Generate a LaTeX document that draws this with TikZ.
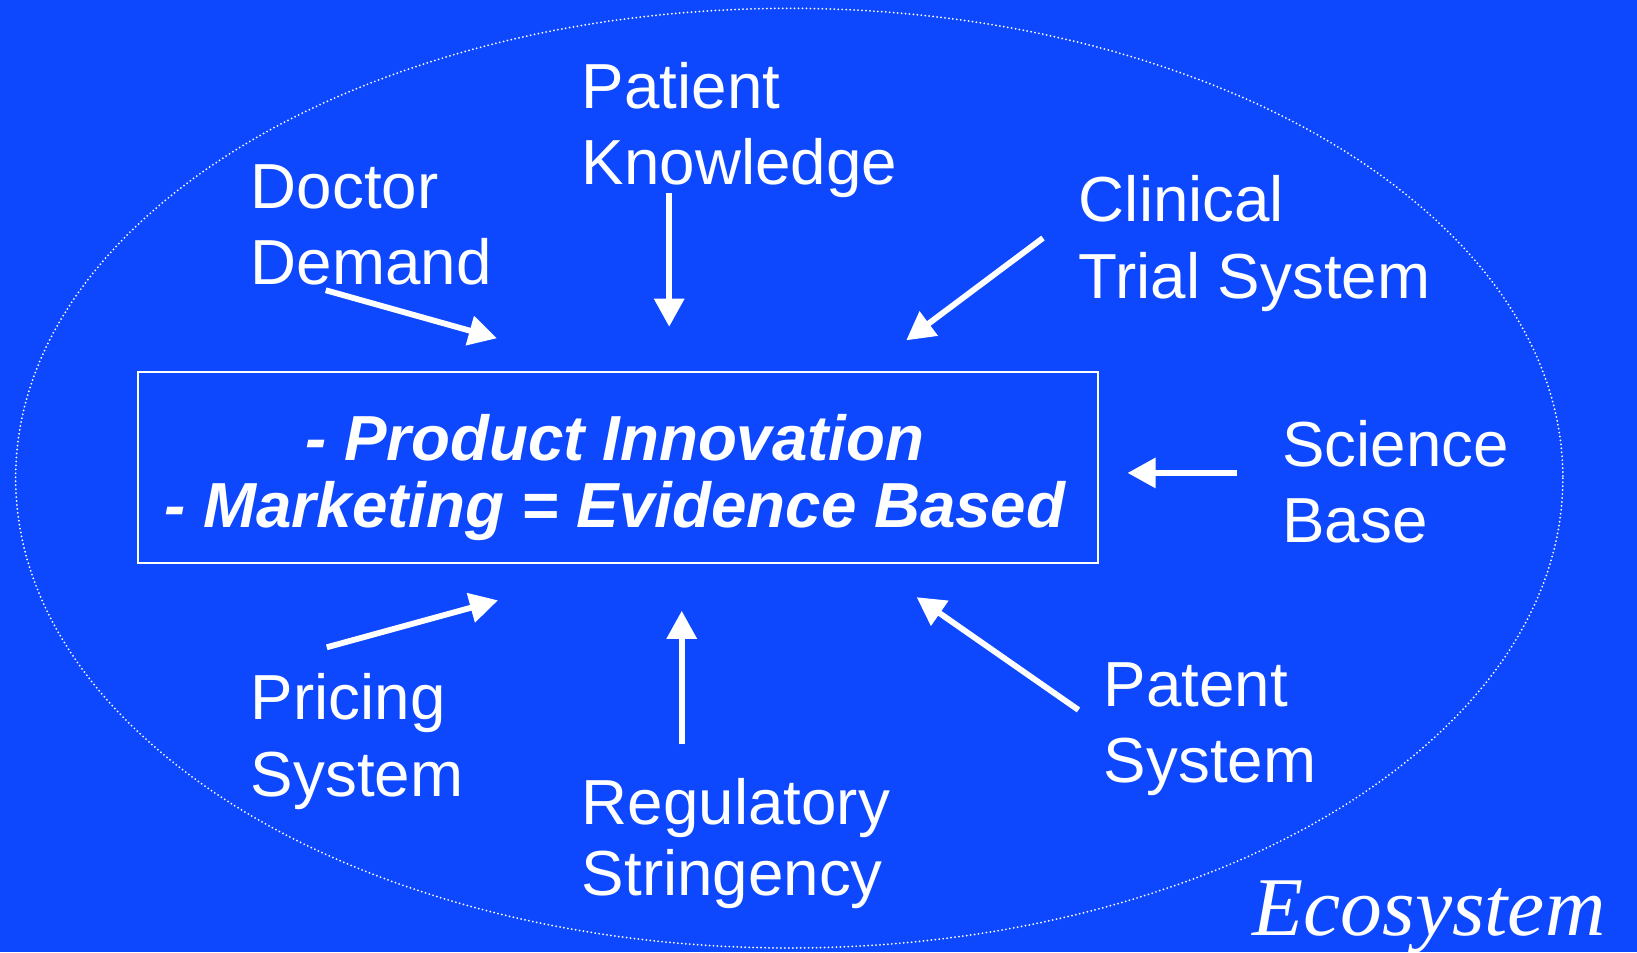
\documentclass[tikz,border=0pt]{standalone}
\usepackage{fontspec}
\setmainfont{Liberation Sans}
\newfontfamily\ecoserif{Liberation Serif}
\usetikzlibrary{arrows.meta}
\definecolor{bgblue}{RGB}{14,72,254}
\tikzset{
  lbl/.style={text=white, anchor=south west, inner sep=0pt, text depth=0pt, align=left,
    font=\fontsize{30.5pt}{36.5pt}\selectfont},
  coretext/.style={text=white, anchor=south, inner sep=0pt, text depth=0pt, align=center,
    font=\fontsize{30.5pt}{32.5pt}\selectfont\bfseries\itshape},
  corebox/.style={draw=white, line width=1pt, minimum width=460pt, minimum height=91.5pt, inner sep=0pt},
  arr/.style={draw=white, line width=2.8pt, -{Triangle[length=13.5pt,width=14pt]}},
  eco/.style={draw=white, line width=0.95pt, line cap=round, dash pattern=on 0pt off 1.9pt}
}
\begin{document}
\begin{tikzpicture}[x=0.5pt,y=-0.5pt]
\fill[bgblue] (0,0) rectangle (1568,912);
\useasboundingbox (0,0) rectangle (1568,912);
\draw[eco] (756,458) ellipse [x radius=741, y radius=450];
\node[corebox] (core) at (592,447.5) {};
\node[coretext] (coret) at (589,506) {- Product Innovation\\- Marketing = Evidence Based};
\node[lbl] (doctor) at (240,273) {Doctor\\Demand};
\node[lbl] (patient) at (557,177) {Patient\\Knowledge};
\node[lbl] (clinical) at (1033,286) {Clinical\\Trial System};
\node[lbl] (science) at (1228,520) {Science\\Base};
\node[lbl] (pricing) at (240,763) {Pricing\\System};
\node[lbl, font=\fontsize{30.5pt}{34pt}\selectfont] (regul) at (557,858) {Regulatory\\Stringency};
\node[lbl] (patent) at (1057,750) {Patent\\System};
\node[text=white, anchor=base east, inner sep=0pt, font=\ecoserif\itshape\fontsize{40pt}{44pt}\selectfont] (eco) at (1538,896) {Ecosystem};
% arrow ends
\coordinate (d1) at (312,278); \coordinate (d2) at (476,324);
\coordinate (p1) at (641,185); \coordinate (p2) at (641,313);
\coordinate (c1) at (999,228); \coordinate (c2) at (868,326);
\coordinate (s1) at (1185,453); \coordinate (s2) at (1080,453);
\coordinate (r1) at (313,620); \coordinate (r2) at (477,575);
\coordinate (g1) at (653,713); \coordinate (g2) at (653,585);
\coordinate (t1) at (1033,680); \coordinate (t2) at (878,572);
\draw[arr] (d1) -- (d2);
\draw[arr] (p1) -- (p2);
\draw[arr] (c1) -- (c2);
\draw[arr] (s1) -- (s2);
\draw[arr] (r1) -- (r2);
\draw[arr] (g1) -- (g2);
\draw[arr] (t1) -- (t2);
\end{tikzpicture}
\end{document}
